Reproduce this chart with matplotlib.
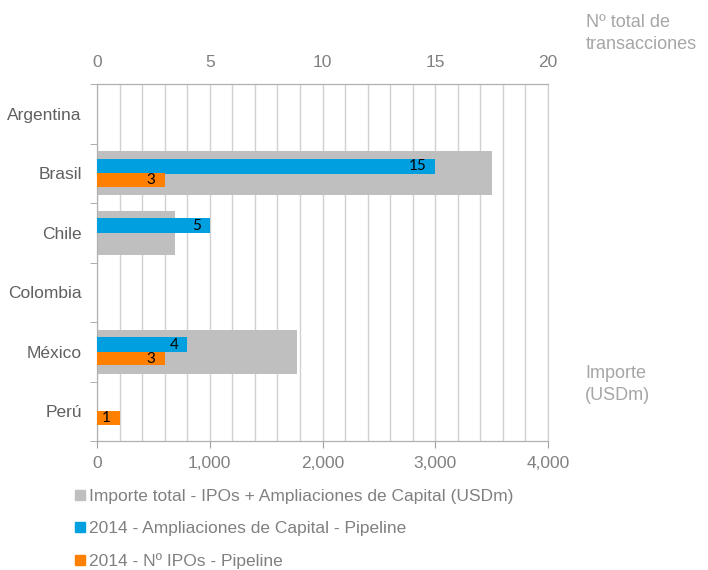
import numpy as np
import matplotlib.pyplot as plt
from matplotlib.ticker import MultipleLocator, FuncFormatter
from matplotlib.patches import Patch

# data
paises = ['Argentina', 'Brasil', 'Chile', 'Colombia', 'México', 'Perú']
importe_total = [0, 3500, 690, 0, 1770, 0]          # USDm, bottom axis
ampliaciones = [0, 15, 5, 0, 4, 0]                   # count, top axis
ipos = [0, 3, 0, 0, 3, 1]                            # count, top axis

lbl_gris = 'Importe total - IPOs + Ampliaciones de Capital (USDm)'
lbl_azul = '2014 - Ampliaciones de Capital - Pipeline'
lbl_naranja = '2014 - Nº IPOs - Pipeline'

c_gris = '#BFBFBF'
c_azul = '#009FDF'
c_naranja = '#FF8000'
c_texto = '#808080'
c_grid = '#D0D0D0'

plt.rcParams['font.family'] = ['Liberation Sans', 'DejaVu Sans']

fig = plt.figure(figsize=(7.08, 5.70), dpi=100)
ax = fig.add_axes([97 / 708, 1 - 441 / 570, 451 / 708, 357 / 570])
y = np.arange(len(paises))

# grey bars on the amount axis
ax.barh(y, importe_total, height=0.74, color=c_gris, zorder=2)
ax.set_xlim(0, 4000)
ax.set_ylim(len(paises) - 0.5, -0.5)
ax.xaxis.set_major_locator(MultipleLocator(1000))
ax.xaxis.set_minor_locator(MultipleLocator(200))
ax.xaxis.set_major_formatter(FuncFormatter(lambda v, p: f'{v:,.0f}'))
ax.grid(axis='x', which='both', color=c_grid, lw=1, zorder=0)
ax.set_axisbelow(True)
ax.set_yticks(y)
ax.set_yticklabels(paises)
ax.set_yticks(np.arange(-0.5, len(paises), 1), minor=True)
ax.tick_params(axis='y', which='major', length=0, pad=11, labelsize=12.5, labelcolor='#606060')
ax.tick_params(axis='y', which='minor', length=5, color='#A0A0A0')
ax.tick_params(axis='x', which='major', length=5, color='#A0A0A0', labelsize=12.5,
               labelcolor=c_texto, pad=6)
ax.tick_params(axis='x', which='minor', length=0)

# count bars on the top axis
ax2 = ax.twiny()
ax2.set_xlim(0, 20)
ax2.set_ylim(len(paises) - 0.5, -0.5)
b1 = ax2.barh(y - 0.12, ampliaciones, height=0.25, color=c_azul, zorder=3)
b2 = ax2.barh(y + 0.115, ipos, height=0.23, color=c_naranja, zorder=3)
ax2.xaxis.set_major_locator(MultipleLocator(5))
ax2.tick_params(axis='x', length=0, labelsize=12.5, labelcolor=c_texto, pad=10)

for bars, vals in ((b1, ampliaciones), (b2, ipos)):
    for rect, v in zip(bars, vals):
        if v > 0:
            ax2.annotate(str(v), (v, rect.get_y() + rect.get_height() / 2),
                         xytext=(-6.5, 0), textcoords='offset points',
                         ha='right', va='center', fontsize=11, color='black',
                         family=['Lato', 'DejaVu Sans'])

for a in (ax, ax2):
    for s in a.spines.values():
        s.set_color('#B0B0B0')
ax2.spines['right'].set_color(c_grid)
ax.spines['right'].set_color(c_grid)

# axis titles on the right
fig.text(586 / 708, 1 - 14 / 570, 'Nº total de\ntransacciones', ha='left', va='top',
         fontsize=13, color='#A6A6A6', linespacing=1.35)
fig.text(585 / 708, 1 - 365 / 570, 'Importe\n(USDm)', ha='left', va='top',
         fontsize=13, color='#A6A6A6', linespacing=1.35)

# legend below
handles = [Patch(color=c_gris), Patch(color=c_azul), Patch(color=c_naranja)]
fig.legend(handles, [lbl_gris, lbl_azul, lbl_naranja], loc='upper left',
           bbox_to_anchor=(75 / 708, 1 - 489 / 570), frameon=False, fontsize=12.5,
           labelcolor=c_texto, handlelength=0.55, handleheight=0.55,
           handletextpad=0.25, labelspacing=0.98, borderaxespad=0, borderpad=0)

fig.savefig('out.png', dpi=100)
